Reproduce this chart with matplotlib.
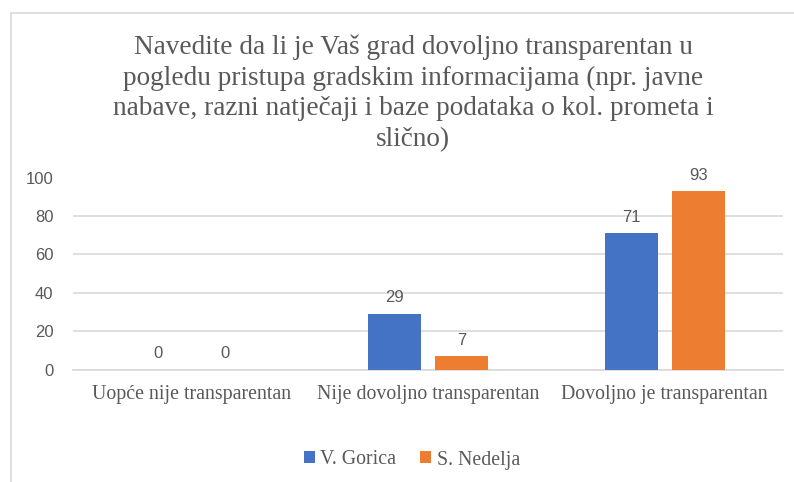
import matplotlib
matplotlib.use("Agg")
import matplotlib.pyplot as plt
import numpy as np
from matplotlib.patches import Rectangle

title = ("Navedite da li je Vaš grad dovoljno transparentan u\n"
         "pogledu pristupa gradskim informacijama (npr. javne\n"
         "nabave, razni natječaji i baze podataka o kol. prometa i\n"
         "slično)")
categories = ["Uopće nije transparentan", "Nije dovoljno transparentan", "Dovoljno je transparentan"]
series_names = ["V. Gorica", "S. Nedelja"]
v_gorica = [0, 29, 71]
s_nedelja = [0, 7, 93]
yticks = [0, 20, 40, 60, 80, 100]

blue = "#4472C4"
orange = "#ED7D31"
text_gray = "#595959"
serif = ["Liberation Serif", "DejaVu Serif"]
sans = ["Liberation Sans", "DejaVu Sans"]

W, H = 794, 482
fig = plt.figure(figsize=(W / 100, H / 100), dpi=100)
fig.patch.set_facecolor("white")

# chart border (extends beyond right/bottom edge)
fig.patches.append(Rectangle((10.5 / W, -0.1), 1.2, 1 - 12.5 / H + 0.1,
                             transform=fig.transFigure, fill=False,
                             edgecolor="#D9D9D9", linewidth=1.2))

left, right = 73 / W, 783 / W
top, bottom = 1 - 177.5 / H, 1 - 369.5 / H
ax = fig.add_axes([left, bottom, right - left, top - bottom])

x = np.arange(len(categories))
bw = 0.224
off = 0.1415
b1 = ax.bar(x - off, v_gorica, bw, color=blue, label=series_names[0], zorder=3)
b2 = ax.bar(x + off, s_nedelja, bw, color=orange, label=series_names[1], zorder=3)

for bars, vals in ((b1, v_gorica), (b2, s_nedelja)):
    for rect, v in zip(bars, vals):
        ax.annotate(str(v), (rect.get_x() + rect.get_width() / 2, v),
                    xytext=(0, 6), textcoords="offset points",
                    ha="center", va="bottom", fontsize=12,
                    family=sans, color=text_gray)

ax.set_xlim(-0.5, len(categories) - 0.5)
ax.set_ylim(0, 100)
ax.set_yticks(yticks)
ax.set_yticklabels([str(t) for t in yticks], family=sans, fontsize=12, color=text_gray)
ax.set_xticks(x)
ax.set_xticklabels(categories, family=serif, fontsize=14.3, color=text_gray)
ax.tick_params(axis="both", length=0)
ax.tick_params(axis="y", pad=14)
ax.tick_params(axis="x", pad=11)
ax.yaxis.grid(True, color="#D9D9D9", linewidth=1.2, zorder=0)
ax.set_axisbelow(True)
for s in ["top", "right", "left"]:
    ax.spines[s].set_visible(False)
ax.spines["bottom"].set_color("#D9D9D9")
ax.spines["bottom"].set_linewidth(1.2)

fig.text(413 / W, 1 - 35 / H, title, ha="center", va="top", family=serif,
         fontsize=19.6, color=text_gray, linespacing=1.28)

leg = fig.legend(handles=[b1, b2], labels=series_names, loc="center",
                 bbox_to_anchor=(412 / W, 1 - 460 / H), ncol=2, frameon=False,
                 prop={"family": serif, "size": 14.3}, handlelength=0.55,
                 handleheight=0.55, handletextpad=0.3, columnspacing=1.2)
for t in leg.get_texts():
    t.set_color(text_gray)

fig.savefig("out.png", dpi=100, facecolor="white")
